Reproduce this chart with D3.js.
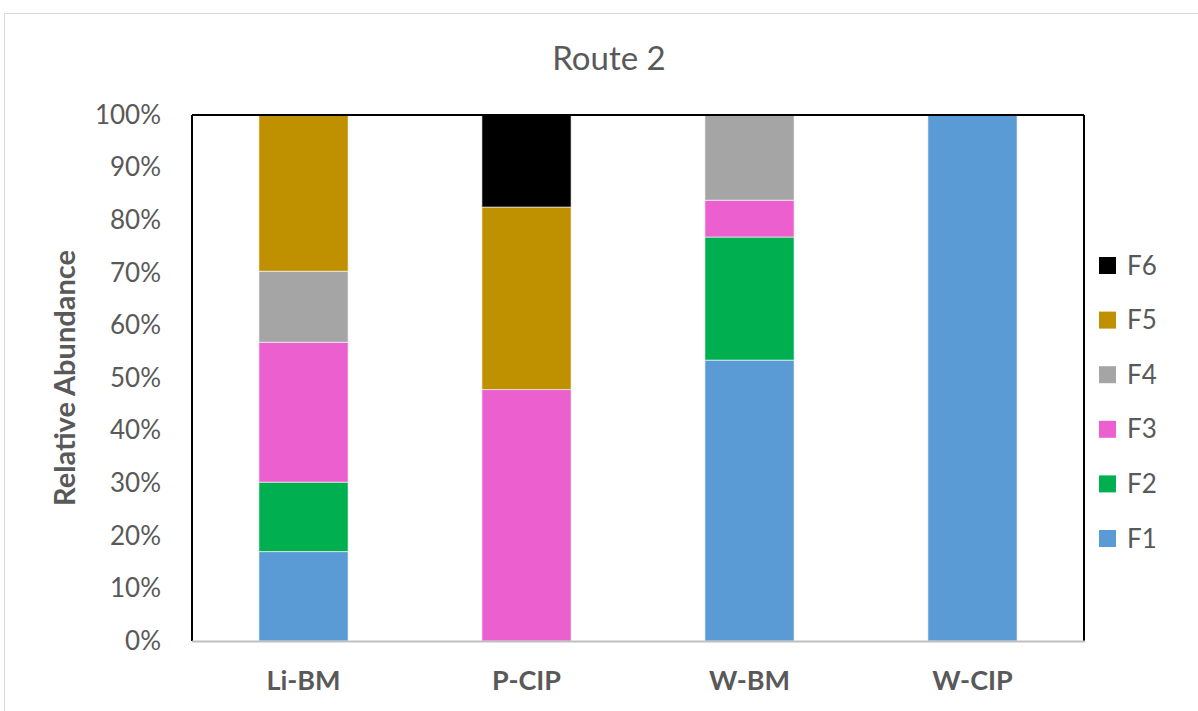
<!DOCTYPE html>
<html><head><meta charset="utf-8">
<script src="https://cdn.jsdelivr.net/npm/d3@7"></script>
<style>body{margin:0;background:#fff;} svg{display:block;font-family:Lato,"Open Sans",sans-serif;}</style>
</head><body>
<svg id="c" width="1198" height="711"></svg>
<script>
const categories = ["Li-BM", "P-CIP", "W-BM", "W-CIP"];
const seriesNames = ["F1", "F2", "F3", "F4", "F5", "F6"];
const F1 = [17.0, 0, 53.4, 100];
const F2 = [13.2, 0, 23.4, 0];
const F3 = [26.6, 47.8, 7.0, 0];
const F4 = [13.5, 0, 16.2, 0];
const F5 = [29.7, 34.7, 0, 0];
const F6 = [0, 17.5, 0, 0];
const seriesValues = [F1, F2, F3, F4, F5, F6];
const colors = ["#5B9BD5", "#00B050", "#EC5FCF", "#A5A5A5", "#BF9000", "#000000"];
const yTicks = [0, 10, 20, 30, 40, 50, 60, 70, 80, 90, 100];
const yTickLabels = yTicks.map(d => d + "%");

const svg = d3.select("#c");
const m = {left: 192, right: 1084, top: 115, bottom: 641};

// outer chart frame
svg.append("rect").attr("x", 4.5).attr("y", 13.5).attr("width", 1300).attr("height", 800)
  .attr("fill", "#fff").attr("stroke", "#d9d9d9").attr("stroke-width", 1);

const x = d3.scaleBand().domain(categories).range([m.left, m.right]).paddingInner(0.6).paddingOuter(0.3);
const y = d3.scaleLinear().domain([0, 100]).range([m.bottom, m.top]);

const rows = categories.map((c, i) => {
  const o = {cat: c};
  seriesNames.forEach((s, j) => o[s] = seriesValues[j][i]);
  return o;
});
const stacked = d3.stack().keys(seriesNames)(rows);

const g = svg.append("g");
stacked.forEach((layer, j) => {
  g.selectAll(null).data(layer.filter(d => d[1] - d[0] > 0)).enter().append("rect")
    .attr("x", d => x(d.data.cat))
    .attr("width", x.bandwidth())
    .attr("y", d => y(d[1]))
    .attr("height", d => y(d[0]) - y(d[1]))
    .attr("fill", colors[j])
    .attr("stroke", "rgba(255,255,255,0.6)")
    .attr("stroke-width", 1);
});

// plot border: left, top, right black; bottom gray axis
svg.append("line").attr("x1", m.left).attr("x2", m.left).attr("y1", m.top).attr("y2", m.bottom)
  .attr("stroke", "#000").attr("stroke-width", 2);
svg.append("line").attr("x1", m.left).attr("x2", m.right).attr("y1", m.top).attr("y2", m.top)
  .attr("stroke", "#000").attr("stroke-width", 2);
svg.append("line").attr("x1", m.right).attr("x2", m.right).attr("y1", m.top).attr("y2", m.bottom)
  .attr("stroke", "#000").attr("stroke-width", 2);

// y axis labels
const yAxis = d3.axisLeft(y).tickValues(yTicks).tickFormat((d, i) => yTickLabels[i]).tickSize(0).tickPadding(31);
const ya = svg.append("g").attr("transform", `translate(${m.left},0)`).call(yAxis);
ya.select(".domain").remove();
ya.selectAll("text").attr("font-size", 26).attr("fill", "#595959").attr("font-family", "Lato,'Open Sans',sans-serif");

// x axis
const xAxis = d3.axisBottom(x).tickSize(0).tickPadding(30);
const xa = svg.append("g").attr("transform", `translate(0,${m.bottom})`).call(xAxis);
xa.select(".domain").remove();
xa.selectAll("text").attr("font-size", 27).attr("font-weight", "bold").attr("fill", "#595959")
  .attr("font-family", "Lato,'Open Sans',sans-serif");
svg.append("line").attr("x1", m.left).attr("x2", m.right + 1).attr("y1", m.bottom + 0.5).attr("y2", m.bottom + 0.5)
  .attr("stroke", "#bfbfbf").attr("stroke-width", 2);

// title
svg.append("text").attr("x", 609).attr("y", 70).attr("text-anchor", "middle")
  .attr("font-size", 33).attr("fill", "#595959").text("Route 2");

// y title
svg.append("text").attr("transform", "translate(75,378) rotate(-90)").attr("text-anchor", "middle")
  .attr("font-size", 29).attr("font-weight", "bold").attr("fill", "#595959").text("Relative Abundance");

// legend
const legY = d3.scalePoint().domain(seriesNames.slice().reverse()).range([265, 538]);
const leg = svg.append("g");
seriesNames.forEach((s, j) => {
  leg.append("rect").attr("x", 1099).attr("y", legY(s) - 8).attr("width", 17).attr("height", 17).attr("fill", colors[j]);
  leg.append("text").attr("x", 1127).attr("y", legY(s) + 9.5).attr("font-size", 26).attr("fill", "#595959").text(s);
});
</script>
</body></html>
